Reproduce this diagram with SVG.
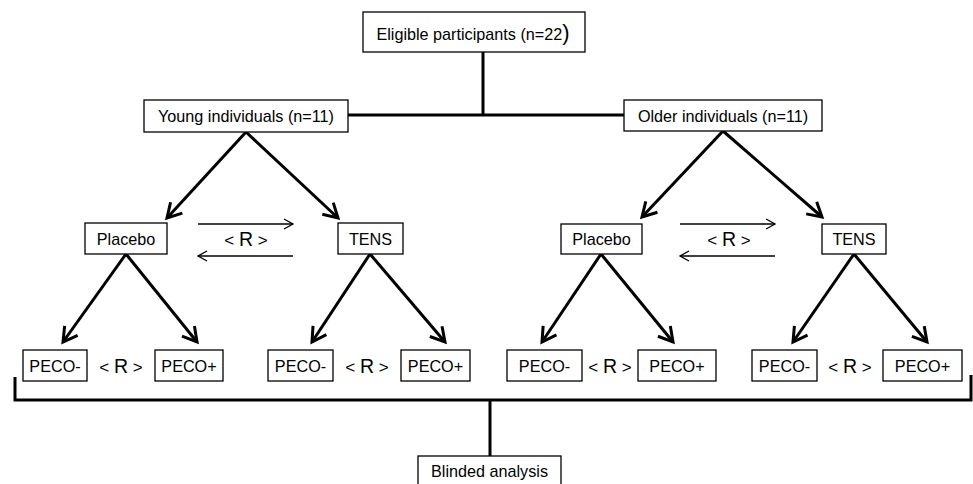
<svg xmlns="http://www.w3.org/2000/svg" width="973" height="484" viewBox="0 0 973 484">
<defs>
<style>
.box{fill:#fff;stroke:#000;stroke-width:1.3}
.t{font-family:"Liberation Sans",Arial,sans-serif;font-size:16.2px;fill:#000;text-anchor:middle}
.r{font-family:"Liberation Sans",Arial,sans-serif;font-size:17px;fill:#000;text-anchor:middle}
.big{font-size:19.5px}
.thick{stroke:#000;stroke-width:3;fill:none}
.thin{stroke:#000;stroke-width:1.3;fill:none}
</style>
<marker id="ah" markerUnits="userSpaceOnUse" markerWidth="20" markerHeight="20" viewBox="-16 -10 18 20" refX="0" refY="0" orient="auto">
<path d="M-14,-8 L0,0 L-14,8" fill="none" stroke="#000" stroke-width="3"/>
</marker>
<marker id="ahs" markerUnits="userSpaceOnUse" markerWidth="14" markerHeight="14" viewBox="-11 -7 13 14" refX="0" refY="0" orient="auto">
<path d="M-9,-5 L0,0 L-9,5" fill="none" stroke="#000" stroke-width="1.3"/>
</marker>
</defs>
<rect width="973" height="484" fill="#fff"/>
<g id="connectors">
<line class="thick" x1="483" y1="52" x2="483" y2="115"/>
<line class="thick" x1="348" y1="115" x2="624" y2="115"/>
<line class="thick" x1="246" y1="132" x2="167" y2="218" marker-end="url(#ah)"/>
<line class="thick" x1="246" y1="132" x2="338" y2="218" marker-end="url(#ah)"/>
<line class="thick" x1="723" y1="131" x2="642" y2="217" marker-end="url(#ah)"/>
<line class="thick" x1="723" y1="131" x2="822" y2="217" marker-end="url(#ah)"/>
<line class="thick" x1="126" y1="254" x2="63" y2="342" marker-end="url(#ah)"/>
<line class="thick" x1="126" y1="254" x2="197" y2="342" marker-end="url(#ah)"/>
<line class="thick" x1="370" y1="254" x2="312" y2="342" marker-end="url(#ah)"/>
<line class="thick" x1="370" y1="254" x2="445" y2="342" marker-end="url(#ah)"/>
<line class="thick" x1="601" y1="254" x2="542" y2="342" marker-end="url(#ah)"/>
<line class="thick" x1="601" y1="254" x2="673" y2="342" marker-end="url(#ah)"/>
<line class="thick" x1="854" y1="254" x2="793" y2="342" marker-end="url(#ah)"/>
<line class="thick" x1="854" y1="254" x2="927" y2="342" marker-end="url(#ah)"/>
<line class="thin" x1="198" y1="224" x2="293" y2="224" marker-end="url(#ahs)"/>
<line class="thin" x1="293" y1="256" x2="198" y2="256" marker-end="url(#ahs)"/>
<line class="thin" x1="680" y1="224" x2="775" y2="224" marker-end="url(#ahs)"/>
<line class="thin" x1="775" y1="256" x2="680" y2="256" marker-end="url(#ahs)"/>
<polyline class="thick" points="15,377 15,400 971,400 971,375"/>
<line class="thick" x1="490" y1="400" x2="490" y2="456"/>
</g>
<g id="eligible"><rect class="box" x="363" y="12" width="222" height="40"/><text class="t" x="473" y="40">Eligible participants (n=22<tspan style="font-size:22px">)</tspan></text></g>
<g id="young"><rect class="box" x="144" y="100" width="204" height="32"/><text class="t" x="246" y="122">Young individuals (n=11)</text></g>
<g id="older"><rect class="box" x="624" y="100" width="198" height="31"/><text class="t" x="723" y="122">Older individuals (n=11)</text></g>
<g id="placebo-young"><rect class="box" x="85" y="223" width="82" height="31"/><text class="t" x="126" y="245">Placebo</text></g>
<g id="tens-young"><rect class="box" x="338" y="223" width="65" height="31"/><text class="t" x="370.5" y="245">TENS</text></g>
<g id="placebo-older"><rect class="box" x="561" y="224" width="81" height="30"/><text class="t" x="601.5" y="245">Placebo</text></g>
<g id="tens-older"><rect class="box" x="822" y="224" width="64" height="30"/><text class="t" x="854" y="245">TENS</text></g>
<g id="r-young"><text class="r" x="246" y="246">&lt; <tspan class="big">R</tspan> &gt;</text></g>
<g id="r-older"><text class="r" x="729" y="246">&lt; <tspan class="big">R</tspan> &gt;</text></g>
<g id="peco-minus-1"><rect class="box" x="23" y="350" width="64" height="31"/><text class="t" x="55" y="372">PECO-</text></g>
<g id="peco-plus-1"><rect class="box" x="155" y="350" width="68" height="31"/><text class="t" x="189" y="372">PECO+</text></g>
<g id="peco-minus-2"><rect class="box" x="268" y="350" width="65" height="31"/><text class="t" x="300.5" y="372">PECO-</text></g>
<g id="peco-plus-2"><rect class="box" x="401" y="350" width="69" height="31"/><text class="t" x="435.5" y="372">PECO+</text></g>
<g id="peco-minus-3"><rect class="box" x="507" y="350" width="75" height="31"/><text class="t" x="544.5" y="372">PECO-</text></g>
<g id="peco-plus-3"><rect class="box" x="638" y="350" width="78" height="31"/><text class="t" x="677" y="372">PECO+</text></g>
<g id="peco-minus-4"><rect class="box" x="752" y="350" width="65" height="31"/><text class="t" x="784.5" y="372">PECO-</text></g>
<g id="peco-plus-4"><rect class="box" x="883" y="350" width="79" height="31"/><text class="t" x="922.5" y="372">PECO+</text></g>
<g id="r-1"><text class="r" x="121" y="373">&lt; <tspan class="big">R</tspan> &gt;</text></g>
<g id="r-2"><text class="r" x="367" y="373">&lt; <tspan class="big">R</tspan> &gt;</text></g>
<g id="r-3"><text class="r" x="610" y="373">&lt; <tspan class="big">R</tspan> &gt;</text></g>
<g id="r-4"><text class="r" x="850" y="373">&lt; <tspan class="big">R</tspan> &gt;</text></g>
<g id="blinded"><rect class="box" x="418" y="456" width="143" height="40"/><text class="t" x="489.5" y="477">Blinded analysis</text></g>
</svg>
